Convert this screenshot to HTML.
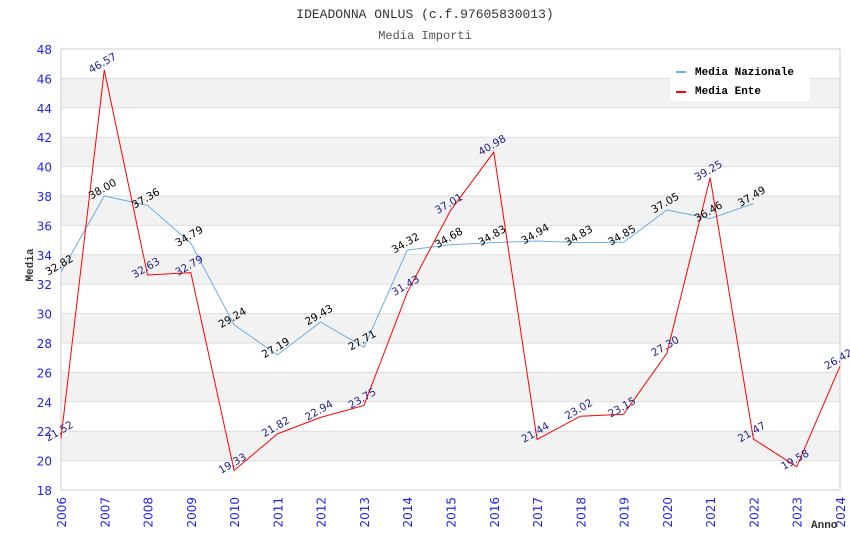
<!DOCTYPE html>
<html><head><meta charset="utf-8"><style>
body{margin:0;background:#fff;}
svg{display:block;}
.sans{font-family:"DejaVu Sans","Liberation Sans",sans-serif;}
.mono{font-family:"Liberation Mono","DejaVu Sans Mono",monospace;}
</style></head><body>
<svg id="chart" width="850" height="550">
<text class="mono" x="425" y="18" text-anchor="middle" font-size="13" fill="#333">IDEADONNA ONLUS (c.f.97605830013)</text>
<text class="mono" x="425" y="39" text-anchor="middle" font-size="12" fill="#555">Media Importi</text>
<g id="bands"></g><g id="grid"></g><g id="axes"></g><g id="series"></g><g id="labels"></g>
<text class="mono" x="38" y="270" text-anchor="middle" font-size="11" font-weight="bold" fill="#333" transform="rotate(-90 33 270)">Media</text>
<text class="mono" x="811" y="528" font-size="11" font-weight="bold" fill="#333">Anno</text>
<g>
<rect x="670" y="58" width="140" height="43" fill="#fff"/>
<line x1="676" y1="72" x2="686" y2="72" stroke="#6aaee8" stroke-width="2"/>
<text class="mono" x="695" y="75" font-size="11" font-weight="bold" fill="#000">Media Nazionale</text>
<line x1="676" y1="92" x2="686" y2="92" stroke="#f00" stroke-width="2"/>
<text class="mono" x="695" y="94" font-size="11" font-weight="bold" fill="#000">Media Ente</text>
</g>
</svg>
<script>
const years=[2006,2007,2008,2009,2010,2011,2012,2013,2014,2015,2016,2017,2018,2019,2020,2021,2022,2023,2024];
const yTicks=[18,20,22,24,26,28,30,32,34,36,38,40,42,44,46,48];
const nazionale=[32.82,38.00,37.36,34.79,29.24,27.19,29.43,27.71,34.32,34.68,34.83,34.94,34.83,34.85,37.05,36.46,37.49];
const ente=[21.52,46.57,32.63,32.79,19.33,21.82,22.94,23.75,31.43,37.01,40.98,21.44,23.02,23.15,27.30,39.25,21.47,19.58,26.42];
const L=61,R=840,T=49,B=490,yMin=18,yMax=48;
const X=i=>L+(R-L)*i/(years.length-1);
const Y=v=>B-(B-T)*(v-yMin)/(yMax-yMin);
const NS="http://www.w3.org/2000/svg";
function mk(tag,attrs,parent,txt){const e=document.createElementNS(NS,tag);for(const k in attrs)e.setAttribute(k,attrs[k]);if(txt!==undefined)e.textContent=txt;document.getElementById(parent).appendChild(e);return e;}
for(let i=0;i<yTicks.length-1;i++){
 const a=yTicks[i],b=yTicks[i+1];
 if(a%4===0){const r=mk('rect',{x:L,y:Y(b),width:R-L,height:Y(a)-Y(b),fill:'#f2f2f2'},'bands');
 
 }
}
yTicks.forEach(v=>{
 const l=mk('line',{x1:L,x2:R,y1:Y(v),y2:Y(v),stroke:'#ddd'},'grid');
 
 
 const t=mk('text',{class:'sans',x:52,y:Y(v)+5,'text-anchor':'end','font-size':12,fill:'#22e'},'axes',String(v));
 
 
});
mk('rect',{x:L,y:T,width:R-L,height:B-T,fill:'none',stroke:'#ccc'},'axes');
years.forEach((yr,i)=>{
 const t=mk('text',{class:'sans',x:0,y:0,'text-anchor':'end','font-size':12,fill:'#22e',transform:`translate(${X(i)+5},${B+7}) rotate(-90)`},'axes',String(yr));
 
 
});
function series(arr,color,lblColor,name){
 const p=mk('polyline',{points:arr.map((v,i)=>X(i)+','+Y(v)).join(' '),fill:'none',stroke:color,'stroke-width':1},'series');
 
 
 arr.forEach((v,i)=>{
  const t=mk('text',{class:'sans',x:0,y:0,'text-anchor':'middle','font-size':10.5,fill:lblColor,transform:`translate(${X(i)},${Y(v)-4}) rotate(-30)`},'labels',v.toFixed(2));
  
  
 });
}
series(nazionale,'#6aaee8','#000','nazionale');
series(ente,'#f00','#22228b','ente');
</script>
</body></html>
